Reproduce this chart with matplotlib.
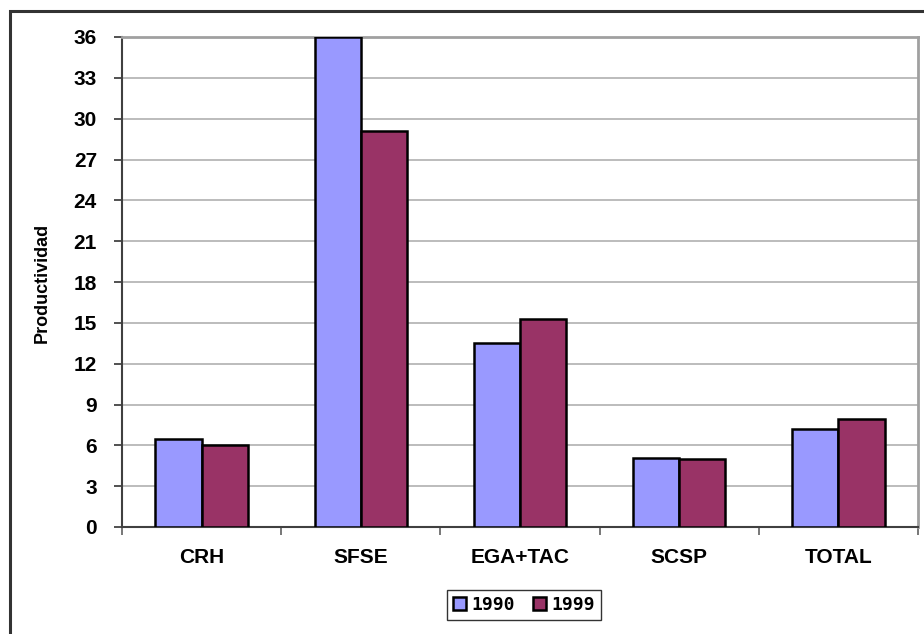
import matplotlib.pyplot as plt
import numpy as np
from matplotlib.patches import Rectangle

categorias = ["CRH", "SFSE", "EGA+TAC", "SCSP", "TOTAL"]
serie_1990 = [6.5, 36.0, 13.5, 5.1, 7.2]
serie_1999 = [6.0, 29.1, 15.3, 5.0, 7.9]
etiquetas = ["1990", "1999"]
yticks = list(range(0, 37, 3))

plt.rcParams['font.family'] = ['Liberation Sans', 'DejaVu Sans']

fig = plt.figure(figsize=(9.24, 6.34), dpi=100)
ax = fig.add_axes([122/924, 1-527/634, 796/924, 490/634])

# marco exterior
fig.patches.append(Rectangle((10/924, -0.1), 1.2, 1-11/634+0.1, transform=fig.transFigure,
                             fill=False, edgecolor='#333333', linewidth=2.2))

x = np.arange(len(categorias))
w = 0.29
ax.bar(x - w/2, serie_1990, w, color='#9999ff', edgecolor='black', linewidth=1.8,
       label=etiquetas[0], zorder=3)
ax.bar(x + w/2, serie_1999, w, color='#993366', edgecolor='black', linewidth=1.8,
       label=etiquetas[1], zorder=3)

ax.set_xlim(-0.5, len(categorias) - 0.5)
ax.set_ylim(0, 36)
ax.set_yticks(yticks)
ax.set_yticklabels([str(v) for v in yticks], fontsize=15, fontweight='bold')
ax.yaxis.grid(True, color='#b0b0b0', linewidth=1.2, zorder=0)

ax.set_xticks(x)
ax.set_xticklabels(categorias, fontsize=15, fontweight='bold')
ax.tick_params(axis='x', length=0, pad=15)
ax.set_xticks(np.arange(-0.5, len(categorias)), minor=True)
ax.tick_params(axis='x', which='minor', length=6, width=1.2, color='#606060')
ax.tick_params(axis='y', length=6, width=1.2, color='#333333', pad=12)

for s in ['top', 'right']:
    ax.spines[s].set_color('#a0a0a0')
    ax.spines[s].set_linewidth(2)
ax.spines['left'].set_color('#404040')
ax.spines['left'].set_linewidth(1.5)
ax.spines['bottom'].set_color('#404040')
ax.spines['bottom'].set_linewidth(1.5)

fig.text(42/924, 1-283/634, "Productividad", rotation=90, fontsize=13,
         fontweight='bold', ha='center', va='center')

leg = fig.legend(loc='center', bbox_to_anchor=(524/924, 1-605/634), ncol=2,
                 frameon=True, fancybox=False, edgecolor='black',
                 prop={'family': 'DejaVu Sans Mono', 'weight': 'bold', 'size': 13},
                 handlelength=0.7, handleheight=0.7, handletextpad=0.3,
                 columnspacing=1.0, borderpad=0.35)
leg.get_frame().set_linewidth(1.0)

fig.savefig("out.png", dpi=100)
